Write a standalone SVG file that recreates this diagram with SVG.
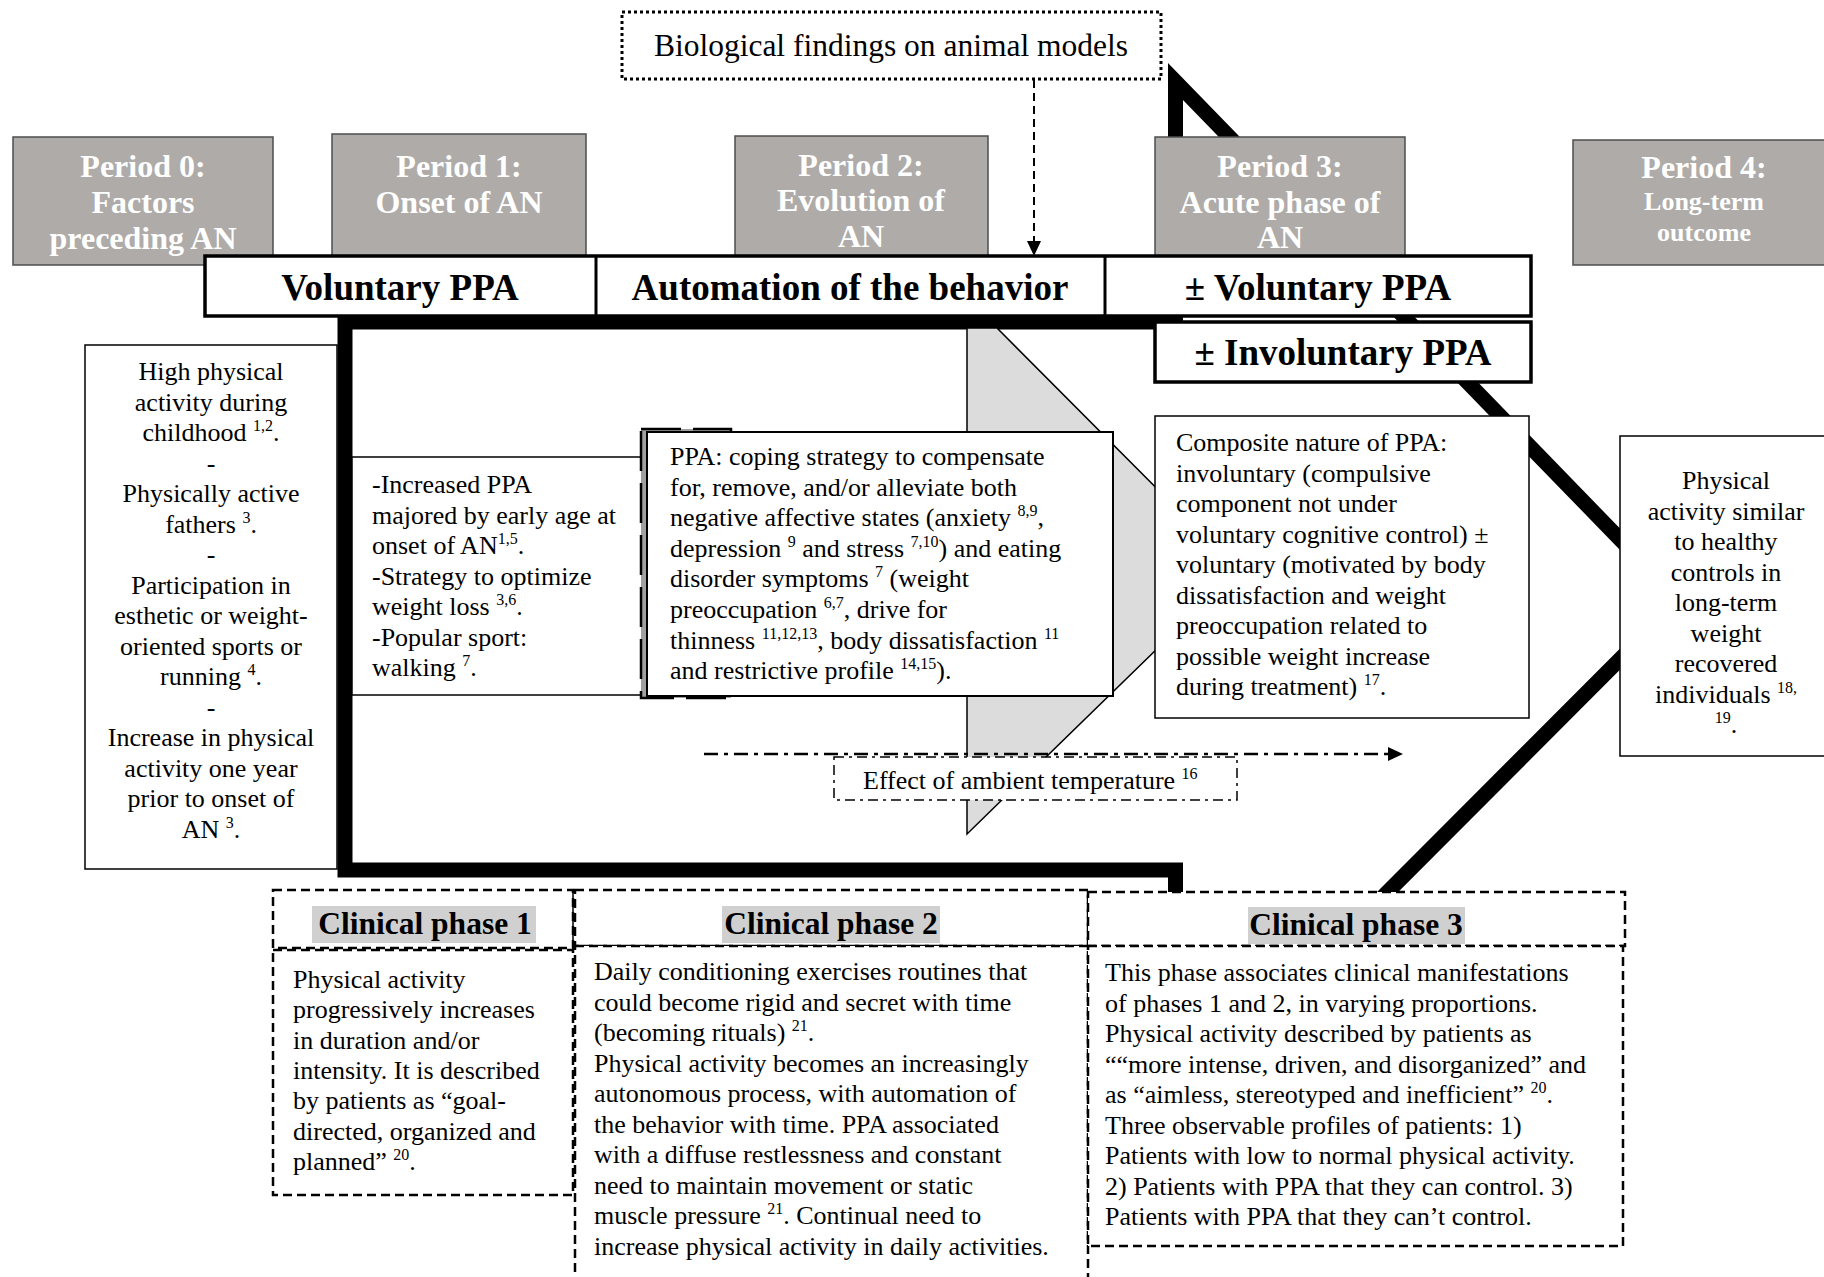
<svg xmlns="http://www.w3.org/2000/svg" width="1824" height="1277" viewBox="0 0 1824 1277">
<style>
.t{font-family:"Liberation Serif","Times New Roman",serif;font-size:26px;fill:#000}
.c{text-anchor:middle}
.b{font-weight:bold}
.pw{font-family:"Liberation Serif","Times New Roman",serif;font-weight:bold;font-size:32px;fill:#fff;text-anchor:middle}
.hd{font-family:"Liberation Serif","Times New Roman",serif;font-weight:bold;font-size:37px;fill:#000;text-anchor:middle}
.ch{font-family:"Liberation Serif","Times New Roman",serif;font-weight:bold;font-size:31.5px;fill:#000;text-anchor:middle}
.sup{font-size:16px}
.box{fill:#fff;stroke:#000;stroke-width:1.5}
.per{fill:#aeaba9;stroke:#4d4d4d;stroke-width:1.5}
.dash{fill:#fff;stroke:#000;stroke-width:2.5;stroke-dasharray:9 5}
.hl{fill:#d0d0d0}
</style>
<rect width="1824" height="1277" fill="#fff"/>
<g id="connectors">
<polygon id="big-arrow" points="345,322 1175.5,322 1175.5,81.5 1679,600 1175.5,1104.5 1175.5,870 345,870" fill="#fff" stroke="#000" stroke-width="15" stroke-linejoin="miter" stroke-miterlimit="20"/>
</g>
<g id="period0"><rect class="per" x="13" y="137" width="260" height="128"/>
<text class="pw" x="143" y="177">Period 0:</text><text class="pw" x="143" y="213">Factors</text><text class="pw" x="143" y="249">preceding AN</text></g>
<g id="period1"><rect class="per" x="332" y="134" width="254" height="130"/>
<text class="pw" x="459" y="177">Period 1:</text><text class="pw" x="459" y="213">Onset of AN</text></g>
<g id="period2"><rect class="per" x="735" y="136" width="253" height="128"/>
<text class="pw" x="861" y="176">Period 2:</text><text class="pw" x="861" y="211">Evolution of</text><text class="pw" x="861" y="247">AN</text></g>
<g id="period3"><rect class="per" x="1155" y="137" width="250" height="127"/>
<text class="pw" x="1280" y="177">Period 3:</text><text class="pw" x="1280" y="213">Acute phase of</text><text class="pw" x="1280" y="248">AN</text></g>
<g id="period4"><rect class="per" x="1573" y="140" width="260" height="125"/>
<text class="pw" x="1704" y="178">Period 4:</text><text class="pw" x="1704" y="210" style="font-size:26px">Long-term</text><text class="pw" x="1704" y="241" style="font-size:26px">outcome</text></g>
<g id="biological">
<rect x="622" y="12" width="539" height="67" fill="#fff" stroke="#000" stroke-width="3" stroke-dasharray="3 3"/>
<text class="t c" x="891" y="56" style="font-size:31.5px">Biological findings on animal models</text>
</g>
<g id="bio-arrow">
<line x1="1034" y1="80" x2="1034" y2="243" stroke="#000" stroke-width="2" stroke-dasharray="8 5"/>
<polygon points="1027,241 1041,241 1034,256" fill="#000"/>
</g>
<g id="bar">
<rect x="205" y="256" width="1326" height="60" fill="#fff" stroke="#000" stroke-width="3.5"/>
<line x1="596" y1="256" x2="596" y2="316" stroke="#000" stroke-width="3"/>
<line x1="1105" y1="256" x2="1105" y2="316" stroke="#000" stroke-width="3"/>
<text class="hd" x="400" y="300">Voluntary PPA</text>
<text class="hd" x="850" y="300">Automation of the behavior</text>
<text class="hd" x="1318" y="300">± Voluntary PPA</text>
</g>
<g id="involuntary">
<rect x="1155" y="322" width="376" height="60" fill="#fff" stroke="#000" stroke-width="3.5"/>
<text class="hd" x="1343" y="365">± Involuntary PPA</text>
</g>
<g id="chevron">
<polygon points="967,328 997,328 1238,570 967,834" fill="#dcdcdc" stroke="#000" stroke-width="1.5"/>
</g>
<g id="increased">
<rect class="box" x="352" y="457" width="294" height="238"/>
<text class="t" x="372" y="493">-Increased PPA</text>
<text class="t" x="372" y="523.5">majored by early age at</text>
<text class="t" x="372" y="554">onset of AN<tspan class="sup" dy="-10">1,5</tspan><tspan dy="10">.</tspan></text>
<text class="t" x="372" y="584.5">-Strategy to optimize</text>
<text class="t" x="372" y="615">weight loss <tspan class="sup" dy="-10">3,6</tspan><tspan dy="10">.</tspan></text>
<text class="t" x="372" y="645.5">-Popular sport:</text>
<text class="t" x="372" y="676">walking <tspan class="sup" dy="-10">7</tspan><tspan dy="10">.</tspan></text>
</g>
<g id="coping">
<rect x="641" y="429" width="90" height="269" fill="#a0a0a0" stroke="#000" stroke-width="2.5" stroke-dasharray="40 12"/>
<rect x="647" y="432" width="466" height="264" fill="#fff" stroke="#000" stroke-width="2"/>
<text class="t" x="670" y="465">PPA: coping strategy to compensate</text>
<text class="t" x="670" y="495.6">for, remove, and/or alleviate both</text>
<text class="t" x="670" y="526.2">negative affective states (anxiety <tspan class="sup" dy="-10">8,9</tspan><tspan dy="10">,</tspan></text>
<text class="t" x="670" y="556.8">depression <tspan class="sup" dy="-10">9</tspan><tspan dy="10"> and stress </tspan><tspan class="sup" dy="-10">7,10</tspan><tspan dy="10">) and eating</tspan></text>
<text class="t" x="670" y="587.4">disorder symptoms <tspan class="sup" dy="-10">7</tspan><tspan dy="10"> (weight</tspan></text>
<text class="t" x="670" y="618">preoccupation <tspan class="sup" dy="-10">6,7</tspan><tspan dy="10">, drive for</tspan></text>
<text class="t" x="670" y="648.6">thinness <tspan class="sup" dy="-10">11,12,13</tspan><tspan dy="10">, body dissatisfaction </tspan><tspan class="sup" dy="-10">11</tspan></text>
<text class="t" x="670" y="679.2">and restrictive profile <tspan class="sup" dy="-10">14,15</tspan><tspan dy="10">).</tspan></text>
</g>
<g id="composite">
<rect class="box" x="1155" y="416" width="374" height="302"/>
<text class="t" x="1176" y="451">Composite nature of PPA:</text>
<text class="t" x="1176" y="481.5">involuntary (compulsive</text>
<text class="t" x="1176" y="512">component not under</text>
<text class="t" x="1176" y="542.5">voluntary cognitive control) ±</text>
<text class="t" x="1176" y="573">voluntary (motivated by body</text>
<text class="t" x="1176" y="603.5">dissatisfaction and weight</text>
<text class="t" x="1176" y="634">preoccupation related to</text>
<text class="t" x="1176" y="664.5">possible weight increase</text>
<text class="t" x="1176" y="695">during treatment) <tspan class="sup" dy="-10">17</tspan><tspan dy="10">.</tspan></text>
</g>
<g id="physical">
<rect class="box" x="1620" y="436" width="220" height="320"/>
<text class="t c" x="1726" y="489">Physical</text>
<text class="t c" x="1726" y="519.5">activity similar</text>
<text class="t c" x="1726" y="550">to healthy</text>
<text class="t c" x="1726" y="580.5">controls in</text>
<text class="t c" x="1726" y="611">long-term</text>
<text class="t c" x="1726" y="641.5">weight</text>
<text class="t c" x="1726" y="672">recovered</text>
<text class="t c" x="1726" y="702.5">individuals <tspan class="sup" dy="-10">18,</tspan></text>
<text class="t c" x="1726" y="733"><tspan class="sup" dy="-10">19</tspan><tspan dy="10">.</tspan></text>
</g>
<g id="factors">
<rect class="box" x="85" y="345" width="252" height="524"/>
<text class="t c" x="211" y="380">High physical</text>
<text class="t c" x="211" y="410.5">activity during</text>
<text class="t c" x="211" y="441">childhood <tspan class="sup" dy="-10">1,2</tspan><tspan dy="10">.</tspan></text>
<text class="t c" x="211" y="471.5">-</text>
<text class="t c" x="211" y="502">Physically active</text>
<text class="t c" x="211" y="532.5">fathers <tspan class="sup" dy="-10">3</tspan><tspan dy="10">.</tspan></text>
<text class="t c" x="211" y="563">-</text>
<text class="t c" x="211" y="593.5">Participation in</text>
<text class="t c" x="211" y="624">esthetic or weight-</text>
<text class="t c" x="211" y="654.5">oriented sports or</text>
<text class="t c" x="211" y="685">running <tspan class="sup" dy="-10">4</tspan><tspan dy="10">.</tspan></text>
<text class="t c" x="211" y="715.5">-</text>
<text class="t c" x="211" y="746">Increase in physical</text>
<text class="t c" x="211" y="776.5">activity one year</text>
<text class="t c" x="211" y="807">prior to onset of</text>
<text class="t c" x="211" y="837.5">AN <tspan class="sup" dy="-10">3</tspan><tspan dy="10">.</tspan></text>
</g>
<g id="temperature">
<line x1="704" y1="754" x2="1390" y2="754" stroke="#000" stroke-width="2.5" stroke-dasharray="14 6 4 6"/>
<polygon points="1388,747 1388,761 1403,754" fill="#000"/>
<rect x="834" y="757" width="403" height="43" fill="#fff" stroke="#000" stroke-width="1.5" stroke-dasharray="10 5 3 5"/>
<text class="t" x="863" y="789">Effect of ambient temperature <tspan class="sup" dy="-10">16</tspan></text>
</g>
<g id="clinical1">
<rect class="dash" x="273" y="890" width="300" height="58"/>
<line x1="573" y1="890" x2="573" y2="948" stroke="#000" stroke-width="1.5"/>
<rect class="hl" x="312" y="906" width="224" height="37"/>
<text class="ch" x="425" y="934">Clinical phase 1</text>
<rect class="dash" x="273" y="950" width="300" height="245"/>
<text class="t" x="293" y="988">Physical activity</text>
<text class="t" x="293" y="1018.3">progressively increases</text>
<text class="t" x="293" y="1048.6">in duration and/or</text>
<text class="t" x="293" y="1078.9">intensity. It is described</text>
<text class="t" x="293" y="1109.2">by patients as “goal-</text>
<text class="t" x="293" y="1139.5">directed, organized and</text>
<text class="t" x="293" y="1169.8">planned” <tspan class="sup" dy="-10">20</tspan><tspan dy="10">.</tspan></text>
</g>
<g id="clinical2">
<rect class="dash" x="575" y="890" width="513" height="56"/>
<rect class="hl" x="722" y="906" width="218" height="37"/>
<text class="ch" x="831" y="934">Clinical phase 2</text>
<rect class="dash" x="575" y="946" width="513" height="350"/>
<text class="t" x="594" y="980">Daily conditioning exercises routines that</text>
<text class="t" x="594" y="1010.5">could become rigid and secret with time</text>
<text class="t" x="594" y="1041">(becoming rituals) <tspan class="sup" dy="-10">21</tspan><tspan dy="10">.</tspan></text>
<text class="t" x="594" y="1071.5">Physical activity becomes an increasingly</text>
<text class="t" x="594" y="1102">autonomous process, with automation of</text>
<text class="t" x="594" y="1132.5">the behavior with time. PPA associated</text>
<text class="t" x="594" y="1163">with a diffuse restlessness and constant</text>
<text class="t" x="594" y="1193.5">need to maintain movement or static</text>
<text class="t" x="594" y="1224">muscle pressure <tspan class="sup" dy="-10">21</tspan><tspan dy="10">. Continual need to</tspan></text>
<text class="t" x="594" y="1254.5">increase physical activity in daily activities.</text>
</g>
<g id="clinical3">
<rect class="dash" x="1088" y="892" width="537" height="54"/>
<rect class="hl" x="1248" y="907" width="217" height="37"/>
<text class="ch" x="1356" y="935">Clinical phase 3</text>
<rect class="dash" x="1088" y="946" width="535" height="300"/>
<text class="t" x="1105" y="981">This phase associates clinical manifestations</text>
<text class="t" x="1105" y="1011.5">of phases 1 and 2, in varying proportions.</text>
<text class="t" x="1105" y="1042">Physical activity described by patients as</text>
<text class="t" x="1105" y="1072.5">““more intense, driven, and disorganized” and</text>
<text class="t" x="1105" y="1103">as “aimless, stereotyped and inefficient” <tspan class="sup" dy="-10">20</tspan><tspan dy="10">.</tspan></text>
<text class="t" x="1105" y="1133.5">Three observable profiles of patients: 1)</text>
<text class="t" x="1105" y="1164">Patients with low to normal physical activity.</text>
<text class="t" x="1105" y="1194.5">2) Patients with PPA that they can control. 3)</text>
<text class="t" x="1105" y="1225">Patients with PPA that they can’t control.</text>
</g>
</svg>
